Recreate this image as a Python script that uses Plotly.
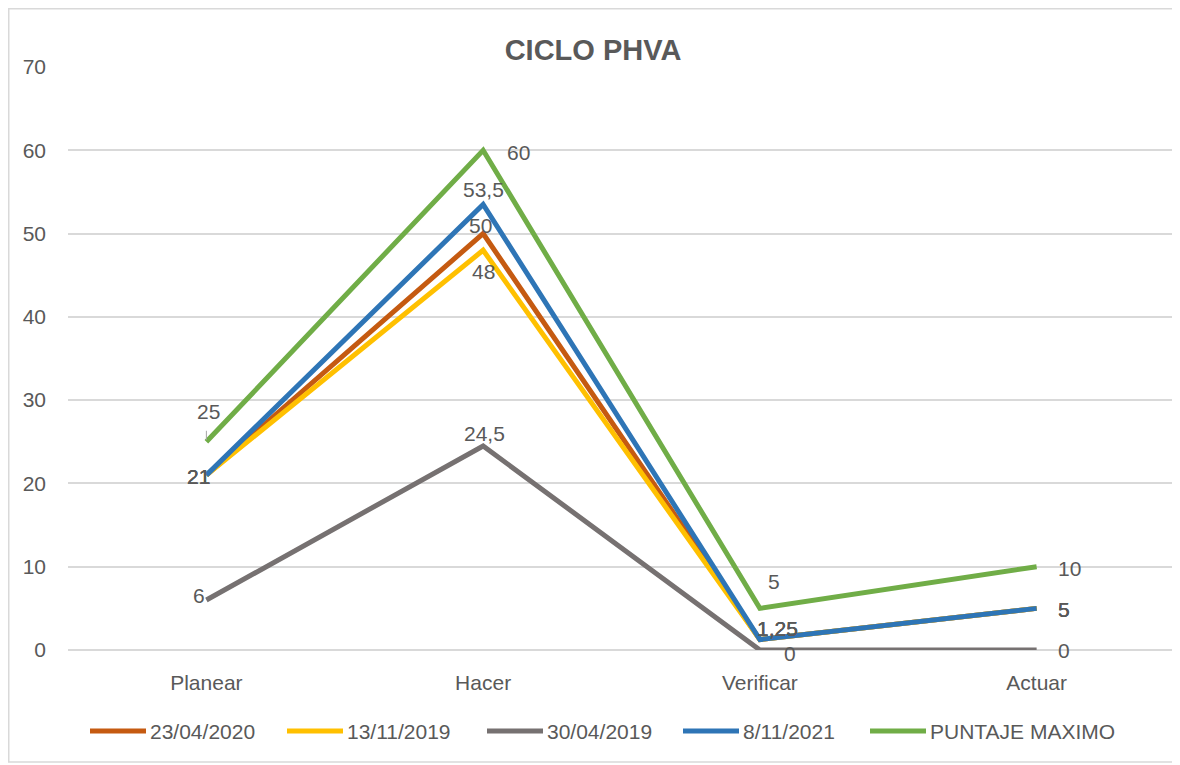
import plotly.graph_objects as go

categories = ["Planear", "Hacer", "Verificar", "Actuar"]
series_names = ["23/04/2020", "13/11/2019", "30/04/2019", "8/11/2021", "PUNTAJE MAXIMO"]
s_23_04_2020 = [21, 50, 1.25, 5]
s_13_11_2019 = [21, 48, 1.25, 5]
s_30_04_2019 = [6, 24.5, 0, 0]
s_8_11_2021 = [21, 53.5, 1.25, 5]
s_puntaje_maximo = [25, 60, 5, 10]
y_ticks = [0, 10, 20, 30, 40, 50, 60, 70]

all_series = [s_23_04_2020, s_13_11_2019, s_30_04_2019, s_8_11_2021, s_puntaje_maximo]
colors = ["#C55A11", "#FFC000", "#767171", "#2E75B6", "#70AD47"]
# label offsets in pixels (dx right, dy up) per series per point
label_offsets = [
    [(-8, -1), (-3, 8), (18, 11), (27, -1)],
    [(-8, -1), (0, -21), (18, 11), (27, -1)],
    [(-7, 5), (1, 12), (30, -3), (27, 0)],
    [(-8, -1), (0, 15), (18, 11), (27, -1)],
    [(2, 30), (35, -2), (14, 27), (33, -2)],
]
# legend entry start positions (page px) and y
legend_x = [90, 287, 487, 683, 870]
legend_y = 731
legend_line_len = 56

FONT = "Liberation Sans, Arial, sans-serif"
TXT = "#595959"
FS = 21

def fmt(v):
    return ("%g" % v).replace(".", ",")

# page has an 8px body margin; figure is offset by (8, 8)
OFF = 8
W, H = 1180 - OFF, 765 - OFF
ml, mt = 68 - OFF, 67 - OFF
pw, ph = 1107, 583
mr, mb = W - ml - pw, H - mt - ph

def px2paper_x(px):
    return (px - OFF - ml) / pw

def px2paper_y(py):
    return (mt + ph - (py - OFF)) / ph

fig = go.Figure()
for name, vals, col in zip(series_names, all_series, colors):
    fig.add_trace(go.Scatter(
        x=categories, y=vals, name=name, mode="lines",
        line=dict(color=col, width=5), cliponaxis=False,
    ))

for vals, offs in zip(all_series, label_offsets):
    for cat, v, (dx, dy) in zip(categories, vals, offs):
        fig.add_annotation(x=cat, y=v, text=fmt(v), showarrow=False,
                           xanchor="center", yanchor="middle", xshift=dx, yshift=dy,
                           font=dict(family=FONT, size=FS, color=TXT))

# small leader line under the moved "25" label
fig.add_shape(type="line", xref="x", yref="y",
              xsizemode="pixel", ysizemode="pixel",
              xanchor=categories.index("Planear"), yanchor=s_puntaje_maximo[0],
              x0=0, x1=0, y0=2, y1=11,
              line=dict(color="#A6A6A6", width=1))

# manual legend
for name, col, lx in zip(series_names, colors, legend_x):
    fig.add_shape(type="line", xref="paper", yref="paper",
                  x0=px2paper_x(lx), x1=px2paper_x(lx + legend_line_len),
                  y0=px2paper_y(legend_y), y1=px2paper_y(legend_y),
                  line=dict(color=col, width=5))
    fig.add_annotation(xref="paper", yref="paper", x=px2paper_x(lx + legend_line_len + 2),
                       y=px2paper_y(legend_y), text=name, showarrow=False,
                       xanchor="left", yanchor="middle",
                       font=dict(family=FONT, size=FS, color=TXT))

fig.update_layout(
    width=W, height=H,
    margin=dict(l=ml, r=mr, t=mt, b=mb),
    paper_bgcolor="white", plot_bgcolor="white",
    font=dict(family=FONT, size=FS, color=TXT),
    title=dict(text="<b>CICLO PHVA</b>", x=(593 - OFF) / W, xref="container", xanchor="center",
               y=1 - (50 - OFF) / H, yref="container", yanchor="middle",
               font=dict(size=29, color=TXT, family=FONT)),
    xaxis=dict(range=[-0.5, 3.5], showgrid=False, zeroline=False, showline=False,
               ticks="", ticklabelstandoff=18, tickfont=dict(size=FS, color=TXT)),
    yaxis=dict(range=[0, 70], tickvals=y_ticks, showgrid=True, gridcolor="#D9D9D9", gridwidth=1.5,
               zeroline=True, zerolinecolor="#D9D9D9", zerolinewidth=1.5, showline=False,
               ticks="", ticklabelstandoff=21, tickfont=dict(size=FS, color=TXT)),
    showlegend=False,
)

# chart border
fig.add_shape(type="rect", xref="paper", yref="paper",
              x0=(0.75 - ml) / pw, x1=(1177 - OFF - ml) / pw,
              y0=-(762 - OFF - mt - ph) / ph, y1=(mt - 0.75) / ph + 1,
              line=dict(color="#D9D9D9", width=1.5), fillcolor="rgba(0,0,0,0)", layer="below")

fig.write_html("out.html")
